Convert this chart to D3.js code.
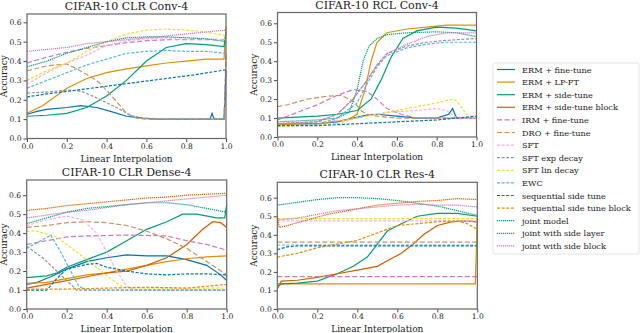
<!DOCTYPE html>
<html><head><meta charset="utf-8">
<script src="https://cdn.jsdelivr.net/npm/d3@7"></script>
<style>
body{margin:0;background:#fff;}
text{font-family:"DejaVu Serif",serif;fill:#222;}
</style></head>
<body><svg id="chart" width="640" height="333"></svg>
<script>
// ---------- data ----------
const seriesNames = ["ERM + fine-tune","ERM + LP-FT","ERM + side-tune","ERM + side-tune block",
 "IRM + fine-tune","DRO + fine-tune","SFT","SFT exp decay","SFT lin decay","EWC",
 "sequential side tune","sequential side tune block","joint model","joint with side layer","joint with side block"];
const panelTitles = ["CIFAR-10 CLR Conv-4","CIFAR-10 RCL Conv-4","CIFAR-10 CLR Dense-4","CIFAR-10 CLR Res-4"];
const xTicks = [0,0.2,0.4,0.6,0.8,1.0];
const yTicks = [0,0.1,0.2,0.3,0.4,0.5,0.6];

// each entry: [series index, [[x,y],...]]
const clrConv4 = [
 [0,[[0,.125],[.05,.14],[.1,.15],[.2,.16],[.27,.17],[.35,.16],[.42,.14],[.5,.115],[.58,.105],[.65,.1],[.92,.1],[.93,.13],[.94,.1],[.99,.1],[1,.35]]],
 [1,[[0,.13],[.08,.17],[.2,.26],[.3,.31],[.4,.34],[.5,.36],[.6,.375],[.7,.39],[.8,.40],[.9,.41],[.99,.41],[1,.58]]],
 [2,[[0,.115],[.1,.12],[.2,.13],[.3,.16],[.4,.22],[.5,.30],[.6,.40],[.7,.47],[.8,.49],[.9,.485],[.99,.475],[1,.55]]],
 [4,[[0,.39],[.1,.42],[.2,.445],[.3,.465],[.4,.48],[.5,.495],[.6,.505],[.7,.51],[.8,.51],[.9,.51],[1,.51]]],
 [5,[[0,.35],[.1,.375],[.2,.385],[.25,.36],[.3,.33],[.35,.30],[.4,.25],[.45,.19],[.5,.13],[.55,.105],[.6,.1],[.99,.1],[1,.44]]],
 [6,[[0,.28],[.1,.34],[.2,.39],[.3,.43],[.4,.48],[.5,.505],[.6,.515],[.7,.52],[.8,.52],[.9,.515],[1,.51]]],
 [7,[[0,.235],[.1,.24],[.2,.25],[.27,.245],[.35,.21],[.45,.16],[.52,.12],[.58,.105],[.65,.1],[.99,.1],[1,.24]]],
 [8,[[0,.30],[.1,.35],[.2,.39],[.3,.45],[.4,.50],[.5,.54],[.6,.56],[.7,.565],[.8,.56],[.9,.55],[1,.53]]],
 [9,[[0,.26],[.1,.30],[.2,.34],[.3,.38],[.4,.41],[.5,.44],[.6,.45],[.7,.455],[.8,.45],[.9,.45],[1,.44]]],
 [10,[[0,.215],[.1,.23],[.25,.25],[.4,.27],[.55,.29],[.7,.31],[.85,.33],[1,.355]]],
 [12,[[0,.37],[.1,.40],[.2,.44],[.3,.47],[.4,.50],[.5,.52],[.6,.525],[.7,.525],[.8,.52],[.9,.515],[1,.50]]],
 [14,[[0,.45],[.1,.46],[.2,.47],[.3,.49],[.4,.50],[.5,.51],[.6,.52],[.7,.53],[.8,.54],[.9,.55],[1,.56]]]
];
const rclConv4 = [
 [0,[[0,.07],[.2,.07],[.3,.08],[.38,.10],[.45,.115],[.5,.12],[.6,.11],[.7,.10],[.8,.10],[.86,.12],[.88,.15],[.9,.10],[1,.10]]],
 [1,[[0,.065],[.2,.07],[.35,.09],[.4,.12],[.44,.25],[.47,.40],[.5,.50],[.55,.55],[.65,.57],[.75,.58],[.85,.59],[1,.59]]],
 [2,[[0,.10],[.2,.11],[.3,.12],[.4,.14],[.47,.20],[.52,.30],[.57,.42],[.63,.52],[.7,.56],[.8,.58],[.9,.575],[1,.56]]],
 [4,[[0,.09],[.1,.13],[.2,.17],[.3,.22],[.38,.25],[.45,.24],[.5,.20],[.55,.15],[.62,.12],[.7,.10],[1,.10]]],
 [5,[[0,.16],[.05,.17],[.15,.20],[.25,.215],[.32,.22],[.38,.19],[.42,.14],[.45,.12],[.5,.11],[.6,.10],[1,.10]]],
 [6,[[0,.07],[.2,.08],[.35,.09],[.45,.11],[.55,.13],[.7,.14],[.8,.15],[.85,.14],[.9,.10],[1,.10]]],
 [7,[[0,.07],[.2,.08],[.3,.12],[.38,.20],[.45,.30],[.5,.38],[.55,.44],[.65,.48],[.75,.50],[.85,.51],[1,.52]]],
 [8,[[0,.055],[.1,.06],[.3,.07],[.4,.10],[.5,.12],[.6,.14],[.7,.16],[.8,.18],[.88,.20],[.9,.19],[.95,.12],[1,.10]]],
 [9,[[0,.06],[.2,.065],[.3,.10],[.4,.18],[.45,.28],[.5,.37],[.55,.43],[.65,.47],[.75,.49],[.85,.50],[1,.50]]],
 [10,[[0,.06],[.2,.06],[.4,.07],[.6,.08],[.8,.09],[.9,.10],[1,.11]]],
 [12,[[0,.08],[.2,.09],[.3,.10],[.36,.13],[.4,.25],[.43,.40],[.46,.48],[.5,.52],[.55,.54],[.65,.55],[.8,.555],[.9,.55],[1,.53]]],
 [14,[[0,.07],[.2,.08],[.3,.12],[.38,.20],[.45,.30],[.5,.38],[.55,.44],[.65,.49],[.75,.53],[.85,.55],[1,.55]]]
];
const clrDense4 = [
 [0,[[0,.13],[.05,.14],[.12,.17],[.2,.21],[.3,.25],[.4,.27],[.5,.285],[.6,.28],[.7,.28],[.8,.26],[.9,.23],[.97,.18],[1,.15]]],
 [1,[[0,.135],[.1,.14],[.2,.16],[.3,.18],[.4,.19],[.5,.21],[.6,.23],[.7,.25],[.8,.265],[.9,.275],[1,.28]]],
 [2,[[0,.165],[.1,.175],[.15,.19],[.2,.22],[.3,.26],[.4,.30],[.5,.36],[.6,.42],[.7,.46],[.78,.50],[.85,.50],[.95,.48],[.99,.48],[1,.55]]],
 [3,[[0,.11],[.1,.13],[.2,.15],[.3,.17],[.4,.19],[.5,.20],[.6,.23],[.7,.27],[.8,.34],[.88,.42],[.93,.46],[.97,.455],[1,.43]]],
 [4,[[0,.34],[.1,.36],[.2,.38],[.3,.385],[.5,.39],[.7,.385],[.8,.36],[.9,.34],[1,.31]]],
 [5,[[0,.43],[.1,.44],[.2,.455],[.3,.46],[.4,.455],[.5,.44],[.6,.41],[.7,.37],[.8,.32],[.9,.25],[1,.18]]],
 [6,[[0,.44],[.1,.47],[.2,.49],[.28,.47],[.35,.40],[.4,.30],[.45,.20],[.5,.12],[.55,.10],[1,.10]]],
 [7,[[0,.33],[.08,.27],[.15,.20],[.2,.15],[.25,.10],[1,.10]]],
 [8,[[0,.41],[.05,.41],[.15,.38],[.25,.30],[.35,.22],[.42,.16],[.48,.115],[.55,.11],[1,.11]]],
 [9,[[0,.32],[.07,.36],[.12,.39],[.17,.30],[.22,.20],[.26,.12],[.3,.10],[1,.10]]],
 [10,[[0,.10],[.1,.10],[.15,.16],[.2,.21],[.3,.235],[.35,.24],[.4,.22],[.5,.20],[.6,.185],[.7,.18],[.8,.185],[.9,.185],[1,.18]]],
 [11,[[0,.105],[.2,.105],[.4,.11],[.6,.115],[.8,.11],[.9,.12],[1,.13]]],
 [12,[[0,.45],[.1,.48],[.2,.51],[.3,.53],[.4,.54],[.5,.55],[.6,.56],[.7,.56],[.8,.55],[.9,.53],[1,.51]]],
 [13,[[0,.52],[.1,.53],[.2,.545],[.3,.555],[.4,.565],[.5,.575],[.6,.585],[.7,.59],[.8,.60],[.9,.605],[1,.61]]],
 [14,[[0,.48],[.1,.495],[.2,.51],[.3,.52],[.4,.535],[.5,.55],[.6,.56],[.7,.57],[.8,.58],[.9,.59],[1,.60]]]
];
const clrRes4 = [
 [1,[[0,.135],[.5,.135],[.99,.135],[1,.49]]],
 [2,[[0,.12],[.02,.135],[.1,.14],[.2,.15],[.3,.19],[.38,.23],[.45,.28],[.5,.35],[.55,.42],[.62,.46],[.7,.50],[.8,.515],[.9,.515],[1,.50]]],
 [3,[[0,.11],[.02,.15],[.1,.155],[.2,.17],[.3,.19],[.4,.21],[.5,.23],[.55,.26],[.62,.30],[.68,.35],[.73,.40],[.8,.45],[.87,.47],[.93,.475],[1,.47]]],
 [4,[[0,.175],[1,.175]]],
 [5,[[0,.36],[1,.36]]],
 [6,[[0,.475],[1,.475]]],
 [8,[[0,.487],[1,.487]]],
 [9,[[0,.345],[1,.345]]],
 [10,[[0,.32],[.05,.335],[.1,.34],[.5,.34],[1,.34]]],
 [11,[[0,.28],[.1,.30],[.2,.33],[.3,.35],[.4,.37],[.5,.41],[.6,.45],[.7,.46],[.8,.47],[.9,.475],[.95,.46],[1,.43]]],
 [12,[[0,.56],[.1,.575],[.2,.59],[.3,.60],[.4,.60],[.5,.595],[.6,.585],[.7,.57],[.8,.555],[.9,.53],[1,.505]]],
 [13,[[0,.50],[.01,.44],[.05,.45],[.15,.48],[.25,.51],[.4,.54],[.5,.56],[.6,.57],[.7,.58],[.8,.585],[.9,.595],[1,.59]]],
 [14,[[0,.48],[.1,.49],[.2,.51],[.3,.53],[.4,.54],[.5,.55],[.6,.56],[.7,.565],[.8,.56],[.9,.56],[1,.55]]]
];

// ---------- styles ----------
const colors = ["#0173B2","#DE8F05","#029E73","#D55E00","#CC78BC","#CA9161","#FBAFE4","#949494","#ECE133","#56B4E9","#0173B2","#DE8F05","#029E73","#D55E00","#CC78BC"];
const dashes = [null,null,null,null,"5,2.5","5,2.5","3,1.6","3,1.6","3,1.6","3,1.6","3,1.6","3,1.6","1.2,0.8","1.2,0.8","1.2,0.8"];

const panels = [
 {data:clrConv4, x:27, y:14, w:199, h:124.5, ymax:0.643, lx:7},
 {data:rclConv4, x:277.5, y:12.5, w:199, h:124.5, ymax:0.657, lx:257},
 {data:clrDense4, x:26.7, y:180, w:200, h:129, ymax:0.68, lx:7},
 {data:clrRes4, x:277.3, y:182.3, w:200, h:126.7, ymax:0.683, lx:257}
];

const svg = d3.select("#chart");
panels.forEach((p,pi)=>{
  const g = svg.append("g").attr("transform",`translate(${p.x},${p.y})`);
  const xs = d3.scaleLinear().domain([0,1]).range([0,p.w]);
  const ys = d3.scaleLinear().domain([0,p.ymax]).range([p.h,0]);
  const cid = "clip"+pi;
  g.append("clipPath").attr("id",cid).append("rect").attr("x",-1).attr("y",-1).attr("width",p.w+2).attr("height",p.h+2);
  const line = d3.line().x(d=>xs(d[0])).y(d=>ys(d[1]));
  const lg = g.append("g").attr("clip-path",`url(#${cid})`);
  p.data.forEach(([si,pts])=>{
    lg.append("path").attr("d",line(pts)).attr("fill","none")
      .attr("stroke",colors[si]).attr("stroke-width",1.2)
      .attr("stroke-dasharray",dashes[si]);
  });
  const xa = g.append("g").attr("transform",`translate(0,${p.h})`)
    .call(d3.axisBottom(xs).tickValues(xTicks).tickFormat(d3.format(".1f")).tickSize(3.5).tickPadding(1.5));
  const ya = g.append("g").call(d3.axisLeft(ys).tickValues(yTicks).tickFormat(d3.format(".1f")).tickSize(3.5).tickPadding(2));
  [xa,ya].forEach(a=>{
    a.select(".domain").remove();
    a.selectAll(".tick line").attr("stroke","#333").attr("stroke-width",0.9);
    a.selectAll(".tick text").style("font-family","DejaVu Serif").style("font-size","7.6px").attr("fill","#222");
  });
  g.append("rect").attr("width",p.w).attr("height",p.h).attr("fill","none").attr("stroke","#666").attr("stroke-width",1.2);
  g.append("text").attr("x",p.w/2).attr("y",-4).attr("text-anchor","middle").style("font-size","11px").text(panelTitles[pi]);
  g.append("text").attr("x",p.w/2).attr("y",p.h+23).attr("text-anchor","middle").style("font-size","9px").text("Linear Interpolation");
  svg.append("text").attr("transform",`translate(${p.lx},${p.y+p.h/2}) rotate(-90)`)
    .attr("text-anchor","middle").style("font-size","9px").text("Accuracy");
});

// legend
const lgd = svg.append("g").attr("transform","translate(493,63)");
lgd.append("rect").attr("width",146).attr("height",191).attr("rx",2).attr("fill","#fff").attr("stroke","#ddd").attr("stroke-width",0.8);
seriesNames.forEach((n,i)=>{
  const yy = 6.5 + i*12.6;
  lgd.append("line").attr("x1",4).attr("x2",22).attr("y1",yy).attr("y2",yy)
    .attr("stroke",colors[i]).attr("stroke-width",1.2).attr("stroke-dasharray",dashes[i]);
  lgd.append("text").attr("x",29).attr("y",yy+3).style("font-size","8.2px").text(n);
});
</script></body></html>
